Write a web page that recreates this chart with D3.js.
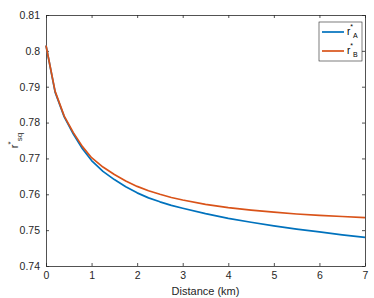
<!DOCTYPE html>
<html>
<head>
<meta charset="utf-8">
<script src="https://cdn.jsdelivr.net/npm/d3@7"></script>
<style>
body { margin: 0; background: #fff; }
text { font-family: "Liberation Sans", Arial, sans-serif; }
</style>
</head>
<body>
<script>
// values
var distance = [0, 0.2, 0.4, 0.6, 0.8, 1, 1.25, 1.5, 1.75, 2, 2.25, 2.5, 2.75, 3, 3.5, 4, 4.5, 5, 5.5, 6, 6.5, 7];
var rA = [0.8015, 0.7885, 0.7816, 0.7768, 0.7727, 0.7694, 0.7664, 0.7641, 0.7621, 0.7604, 0.7590, 0.7579, 0.7569, 0.7561, 0.7546, 0.7533, 0.7522, 0.7512, 0.7503, 0.7495, 0.7487, 0.7480];
var rB = [0.8015, 0.7887, 0.7818, 0.7772, 0.7733, 0.7702, 0.7676, 0.7655, 0.7637, 0.7622, 0.7610, 0.7600, 0.7591, 0.7584, 0.7572, 0.7563, 0.7556, 0.7550, 0.7545, 0.7541, 0.7538, 0.7535];
var xTicks = [0, 1, 2, 3, 4, 5, 6, 7];
var yTicks = [0.74, 0.75, 0.76, 0.77, 0.78, 0.79, 0.8, 0.81];
var seriesNames = ["A", "B"];
var colors = ["#0072BD", "#D95319"];

var width = 374, height = 298;
var margin = {top: 15, right: 9, bottom: 32, left: 46};

var svg = d3.select("body").append("svg")
    .attr("width", width)
    .attr("height", height);

var xscale = d3.scaleLinear().domain([0, 7]).range([margin.left, width - margin.right]);
var yscale = d3.scaleLinear().domain([0.74, 0.81]).range([height - margin.bottom, margin.top]);

var axisColor = "#262626";

function styleAxis(g) {
    g.select(".domain").attr("stroke", axisColor).attr("stroke-width", 0.8);
    g.selectAll(".tick line").attr("stroke", axisColor).attr("stroke-width", 0.8);
    g.selectAll(".tick text").attr("fill", axisColor).attr("font-size", 10.5);
}

// bottom / left axes with inward ticks
svg.append("g")
    .attr("transform", `translate(0,${height - margin.bottom})`)
    .call(d3.axisBottom(xscale).tickValues(xTicks).tickSize(-3).tickSizeOuter(0).tickPadding(6).tickFormat(d3.format("d")))
    .call(styleAxis);

svg.append("g")
    .attr("transform", `translate(${margin.left},0)`)
    .call(d3.axisLeft(yscale).tickValues(yTicks).tickSize(-3).tickSizeOuter(0).tickPadding(6).tickFormat(d => d3.format("")(+d.toFixed(2))))
    .call(styleAxis);

// top / right axes (box)
svg.append("g")
    .attr("transform", `translate(0,${margin.top})`)
    .call(d3.axisTop(xscale).tickValues(xTicks).tickSize(-3).tickSizeOuter(0).tickFormat(""))
    .call(styleAxis);

svg.append("g")
    .attr("transform", `translate(${width - margin.right},0)`)
    .call(d3.axisRight(yscale).tickValues(yTicks).tickSize(-3).tickSizeOuter(0).tickFormat(""))
    .call(styleAxis);

var line = d3.line()
    .x((d, i) => xscale(distance[i]))
    .y(d => yscale(d));

[rA, rB].forEach((s, i) => {
    svg.append("path")
        .datum(s)
        .attr("fill", "none")
        .attr("stroke", colors[i])
        .attr("stroke-width", 1.7)
        .attr("stroke-linejoin", "round")
        .attr("d", line);
});

// axis labels
svg.append("text")
    .attr("x", (margin.left + width - margin.right) / 2)
    .attr("y", 295)
    .attr("text-anchor", "middle")
    .attr("font-size", 11)
    .attr("fill", axisColor)
    .text("Distance (km)");

var ylab = svg.append("text")
    .attr("transform", `translate(18,${(margin.top + height - margin.bottom) / 2}) rotate(-90)`)
    .attr("text-anchor", "middle")
    .attr("font-size", 11)
    .attr("fill", axisColor);
ylab.append("tspan").text("r");
ylab.append("tspan").attr("font-size", 8).attr("dy", -5).text("*");
ylab.append("tspan").attr("font-size", 8).attr("dy", 9).text("sq");

// legend
var lx = 319, ly = 22;
svg.append("rect")
    .attr("x", lx).attr("y", ly)
    .attr("width", 43).attr("height", 39)
    .attr("fill", "#fff")
    .attr("stroke", "#262626")
    .attr("stroke-width", 0.6);

seriesNames.forEach((n, i) => {
    var yy = ly + 10 + i * 19;
    svg.append("line")
        .attr("x1", lx + 3).attr("x2", lx + 25)
        .attr("y1", yy).attr("y2", yy)
        .attr("stroke", colors[i])
        .attr("stroke-width", 1.7);
    var t = svg.append("text")
        .attr("x", lx + 28).attr("y", yy + 3)
        .attr("font-size", 10)
        .attr("fill", "#000");
    t.append("tspan").text("r");
    t.append("tspan").attr("font-size", 7).attr("dy", -6).text("*");
    t.append("tspan").attr("font-size", 7).attr("dy", 9).text(n);
});
</script>
</body>
</html>
